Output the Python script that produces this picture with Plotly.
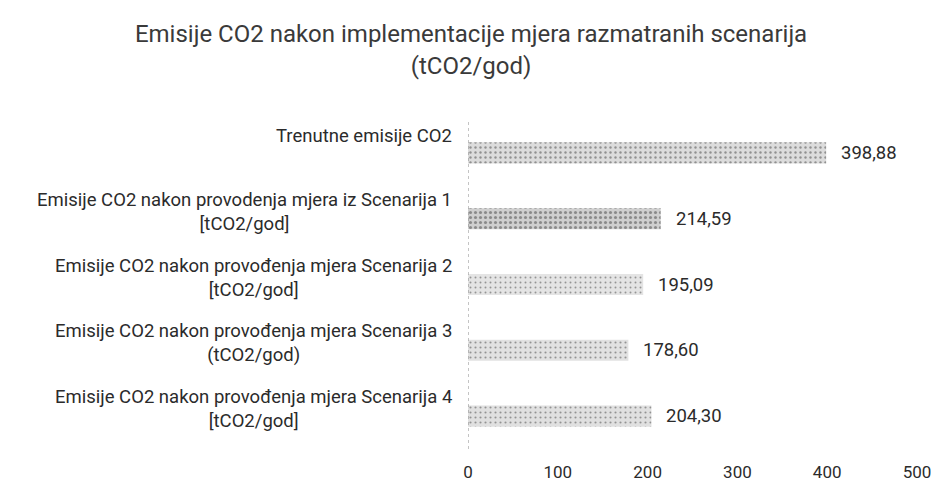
import plotly.graph_objects as go

title_text = "Emisije CO2 nakon implementacije mjera razmatranih scenarija<br>(tCO2/god)"
categories = [
    "Trenutne emisije CO2",
    "Emisije CO2 nakon provodenja mjera iz Scenarija 1<br>[tCO2/god]",
    "Emisije CO2 nakon provođenja mjera Scenarija 2<br>[tCO2/god]",
    "Emisije CO2 nakon provođenja mjera Scenarija 3<br>(tCO2/god)",
    "Emisije CO2 nakon provođenja mjera Scenarija 4<br>[tCO2/god]",
]
values = [398.88, 214.59, 195.09, 178.60, 204.30]
x_ticks = [0, 100, 200, 300, 400, 500]

labels = [f"{v:.2f}".replace(".", ",") for v in values]
FONT = "Roboto, Arial, sans-serif"

fig = go.Figure()
fig.add_trace(go.Bar(
    y=categories, x=values, orientation="h",
    marker=dict(
        color=["#dcdcdc", "#cfcfcf", "#e4e4e4", "#e2e2e2", "#e0e0e0"],
        line=dict(width=0),
        pattern=dict(shape=".", fgcolor=["#9a9a9a", "#6e6e6e", "#a8a8a8", "#a0a0a0", "#a0a0a0"],
                     size=5, solidity=[0.18, 0.3, 0.12, 0.14, 0.14]),
    ),
    width=0.32,
    hoverinfo="skip",
))

# value labels
for c, v, t in zip(categories, values, labels):
    fig.add_annotation(x=v, xref="x", xanchor="left", xshift=13, y=c, yref="y",
                       text=t, showarrow=False,
                       font=dict(size=18.5, color="#2b2b2b", family=FONT))

# category labels as annotations (centered multi-line like the original)
for i, c in enumerate(categories):
    fig.add_annotation(
        x=0, xref="paper", xanchor="right", xshift=-14,
        y=c, yref="y", yshift=17 if i == 0 else 7,
        text=c, showarrow=False, align="center",
        font=dict(size=18.5, color="#2b2b2b", family=FONT),
    )

# dotted vertical axis line
fig.add_shape(type="line", xref="x", yref="paper", x0=0, x1=0, y0=0, y1=1.0,
              line=dict(color="#8a8a8a", width=1, dash="dot"))

fig.update_layout(
    width=944, height=492,
    paper_bgcolor="white", plot_bgcolor="white",
    margin=dict(l=460, r=35, t=112, b=51),
    title=dict(text=title_text, x=0.4905, xanchor="center", y=0.93, yanchor="top",
               font=dict(size=24, color="#3a3a3a", family=FONT)),
    showlegend=False,
    xaxis=dict(range=[0, 500], tickvals=x_ticks, showgrid=False, zeroline=False,
               showline=False, ticks="outside", ticklen=8, tickcolor="rgba(0,0,0,0)",
               automargin=False,
               tickfont=dict(size=17, color="#2b2b2b", family=FONT)),
    yaxis=dict(autorange="reversed", showticklabels=False, showgrid=False,
               zeroline=False, showline=False, automargin=False),
)

fig.write_html("out.html")
